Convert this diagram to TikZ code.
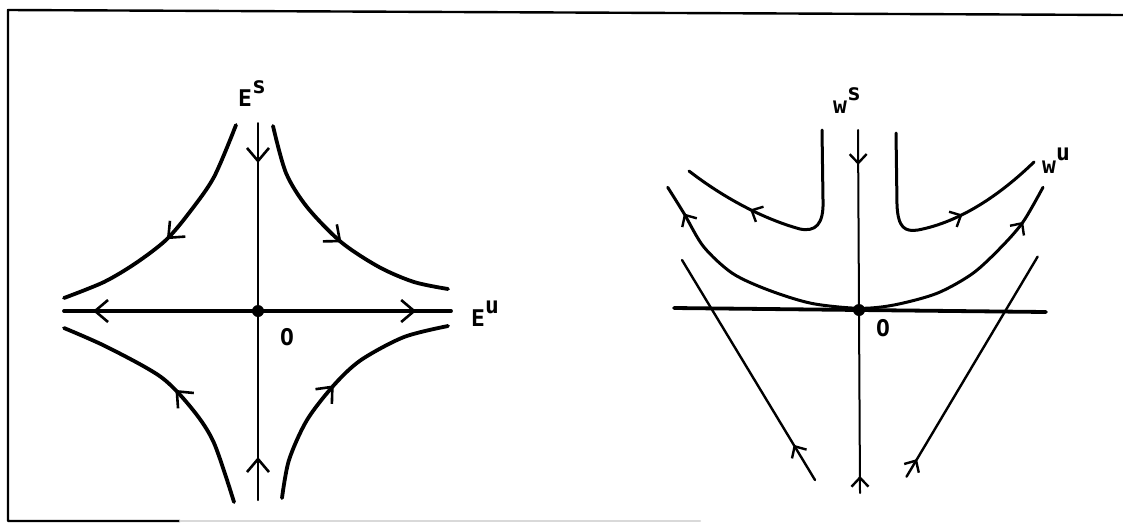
\documentclass[tikz,border=0pt]{standalone}
\usepackage{fontspec}
\newfontfamily\lblfont{DejaVu Sans Mono}
\usetikzlibrary{arrows.meta,decorations.markings}
\newcommand{\upr}[1]{\raisebox{13pt}{#1}}
\tikzset{
  lbl/.style={font=\fontsize{23}{27}\selectfont\lblfont\bfseries, inner sep=0pt},
  arr/.style={postaction={decorate,decoration={markings,mark=at position #1 with {\arrow{Straight Barb[length=13pt,width=22pt,line width=2.6pt]}}}}},
  rarr/.style={postaction={decorate,decoration={markings,mark=at position #1 with {\arrowreversed{Straight Barb[length=13pt,width=22pt,line width=2.6pt]}}}}},
  sarr/.style={postaction={decorate,decoration={markings,mark=at position #1 with {\arrow{Straight Barb[length=9pt,width=17pt,line width=2.4pt]}}}}},
  rsarr/.style={postaction={decorate,decoration={markings,mark=at position #1 with {\arrowreversed{Straight Barb[length=9pt,width=17pt,line width=2.4pt]}}}}},
  heavy/.style={line width=3.8pt},
  mid/.style={line width=3pt},
  thinax/.style={line width=2pt},
}
\begin{document}
\begin{tikzpicture}[x=1pt,y=-1pt,line cap=round,line join=round]
\useasboundingbox (0,0) rectangle (1123,523);
% frame
\coordinate (fTR) at (1123,15);
\coordinate (fTL) at (8,10);
\coordinate (fBL) at (8,521);
\coordinate (fB1) at (180,521);
\coordinate (fB2) at (700,521);
\draw[line width=2.4pt] (fTR) -- (fTL) -- (fBL) -- (fB1);
\draw[line width=2.4pt, black!15] (fB1) -- (fB2);

% ---------------- left panel ----------------
\coordinate (O1) at (258,311);
\coordinate (EsT) at (258,123);
\coordinate (EsB) at (258,500);
\coordinate (EuL) at (64,311);
\coordinate (EuR) at (451,311);
\draw[thinax, arr=0.106, rarr=0.886] (EsT) -- (EsB);
\draw[heavy, rarr=0.075, arr=0.91] (EuL) -- (EuR);
\fill (O1) circle (6pt);
% hyperbolas
\draw[heavy, arr=0.53] plot[smooth] coordinates {(236,125) (214,177) (189,213) (166,240) (136,263) (104,282) (64,298)};
\draw[heavy, arr=0.54] plot[smooth] coordinates {(273,126) (286,173) (307,207) (341,242) (379,267) (414,282) (448,289)};
\draw[heavy, arr=0.5] plot[smooth] coordinates {(234,502) (214,443) (193,410) (161,377) (107,347) (64,328)};
\draw[heavy, arr=0.49] plot[smooth] coordinates {(282,498) (289,460) (307,420) (334,385) (361,360) (404,337) (448,326)};
\node[lbl, anchor=base west] (Es) at (238,106) {E\upr{s}};
\node[lbl, anchor=base west] (Eu) at (471,326) {E\upr{u}};
\node[lbl] (o1) at (287,337) {O};

% ---------------- right panel ----------------
\coordinate (O2) at (859,310);
\coordinate (WsT) at (858,130);
\coordinate (WsB) at (860,493);
\coordinate (HL) at (674,308);
\coordinate (HR) at (1046,312);
\draw[thinax, sarr=0.096, rsarr=0.953] (WsT) -- (WsB);
\draw[heavy] (HL) -- (HR);
% unstable manifold
\draw[mid, rsarr=0.065, sarr=0.916] plot[smooth] coordinates {(667.7,187.3) (683.9,213.3) (703.6,246.7) (732.4,273.3) (768.3,290) (811.3,303.3) (858.7,308.3) (893.9,305) (937,293.3) (972.9,273.3) (1001.6,246.7) (1023.2,221.7) (1043,187.3)};
\fill (O2) circle (6pt);
% upper orbits
\coordinate (ulT) at (822,130);
\coordinate (ulE) at (689,171);
\draw[mid, sarr=0.7] (ulT) -- (823,200) .. controls (824,225) and (815,232) .. (800,229) .. controls (760,218) and (720,195) .. (ulE);
\coordinate (urT) at (896,133);
\coordinate (urE) at (1034,162);
\draw[mid, sarr=0.64] (urT) -- (897,205) .. controls (898,228) and (905,232) .. (918,230) .. controls (960,222) and (1000,195) .. (urE);
% lower orbits
\coordinate (llB) at (815,480);
\coordinate (llT) at (682,260);
\draw[line width=2.4pt, sarr=0.16] (llB) -- (llT);
\coordinate (lrB) at (906.5,476.7);
\coordinate (lrT) at (1037.6,256.7);
\draw[line width=2.4pt, sarr=0.08] (lrB) -- (lrT);
\node[lbl, anchor=base west] (Ws) at (833,113) {w\upr{s}};
\node[lbl, anchor=base west] (Wu) at (1042,173) {w\upr{u}};
\node[lbl] (o2) at (883,328) {O};
\end{tikzpicture}
\end{document}
